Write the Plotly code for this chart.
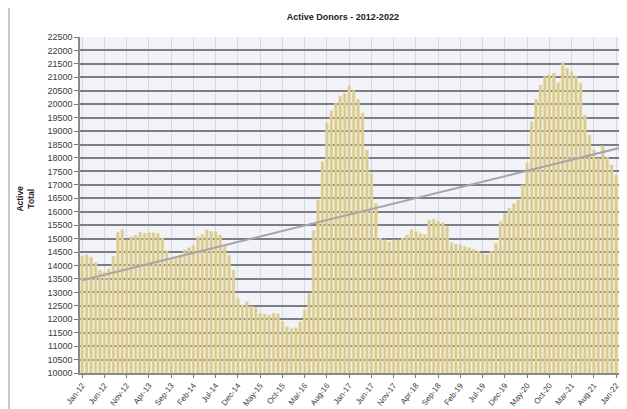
import plotly.graph_objects as go

title = "Active Donors - 2012-2022"
y_title = "Active<br>Total"

month_names = ["Jan", "Feb", "Mar", "Apr", "May", "Jun", "Jul", "Aug", "Sep", "Oct", "Nov", "Dec"]
start_year = 2012
n_months = 123

donors = [
    14350, 14400, 14300, 14100, 13830, 13770, 13860, 14330, 15250, 15350,
    14950, 15070, 15130, 15230, 15200, 15220, 15220, 15200, 15020, 14560,
    14240, 14260, 14390, 14580, 14660, 14760, 15070, 15160, 15320, 15260,
    15260, 15130, 14700, 14390, 13830, 12780, 12530, 12650, 12470, 12440,
    12220, 12200, 12160, 12220, 12200, 11910, 11720, 11660, 11680, 11910,
    12340, 12960, 15300, 16440, 17860, 19290, 19760, 20030, 20300, 20400,
    20680, 20500, 20180, 19660, 18300, 17430, 16310, 15010, 14950, 14880,
    14950, 14950, 15010, 15130, 15330, 15260, 15200, 15150, 15690, 15720,
    15630, 15590, 15440, 14850, 14790, 14760, 14700, 14660, 14600, 14520,
    14450, 14400, 14520, 14820, 15630, 15920, 16130, 16310, 16440, 16990,
    17800, 19350, 20180, 20710, 21020, 21090, 21150, 20800, 21550, 21340,
    21210, 21020, 20780, 19600, 18850, 18300, 17990, 18450, 18020, 17740,
    17370, 17240, 17200,
]

trend_first_last = [13450, 18420]

y_ticks = list(range(10000, 22501, 500))
tick_step = 5

labels = [f"{month_names[i % 12]}-{(start_year + i // 12) % 100:02d}" for i in range(n_months)]
idx = list(range(len(donors)))
tick_idx = idx[::tick_step]
tick_txt = [labels[i] for i in tick_idx]

fig = go.Figure()
fig.add_trace(go.Bar(
    x=idx, y=donors,
    marker=dict(color="#d8ca92", line=dict(color="#e8d690", width=0.6)),
    hoverinfo="skip",
))
fig.add_trace(go.Scatter(
    x=[idx[0], idx[-1]], y=trend_first_last, mode="lines",
    line=dict(color="#a6a4a8", width=2), hoverinfo="skip",
))

fig.update_layout(
    width=619, height=401,
    margin=dict(l=72, r=0, t=29, b=36),
    paper_bgcolor="white",
    plot_bgcolor="#f1f3f9",
    showlegend=False,
    bargap=0.4,
    font=dict(family="Liberation Sans, Arial", color="#333333"),
    title=dict(text="<b>" + title + "</b>", x=0.541, xanchor="center",
               y=0.977, yanchor="middle", font=dict(size=9, color="#222222")),
    annotations=[dict(
        text="<b>" + y_title + "</b>", xref="paper", yref="paper",
        x=-0.1, y=0.52, xanchor="center", yanchor="middle",
        textangle=-90, showarrow=False, font=dict(size=8.5, color="#222222"),
    )],
    shapes=[dict(type="line", xref="paper", yref="paper",
                 x0=-0.1298, x1=-0.1298, y0=-0.12, y1=1.1,
                 line=dict(color="#c8c8c8", width=2))],
)
fig.update_xaxes(
    range=[-0.5, 122.45],
    tickmode="array", tickvals=tick_idx, ticktext=tick_txt,
    tickangle=-52, tickfont=dict(size=8, color="#3a3a3a"),
    ticks="outside", ticklen=3, tickcolor="#777777",
    showgrid=True, gridcolor="#d6d8e0", gridwidth=1,
    showline=True, linecolor="#888888", linewidth=1.5,
    zeroline=False, automargin=False,
)
fig.update_yaxes(
    range=[10000, 22500],
    tickmode="array", tickvals=y_ticks, ticktext=[str(v) for v in y_ticks],
    tickfont=dict(size=9, color="#3a3a3a"),
    ticks="outside", ticklen=4, tickcolor="#777777",
    showgrid=True, gridcolor="#7d7d84", gridwidth=1.8,
    showline=True, linecolor="#888888", linewidth=1.5,
    zeroline=False, automargin=False,
)

fig.write_html("out.html")
